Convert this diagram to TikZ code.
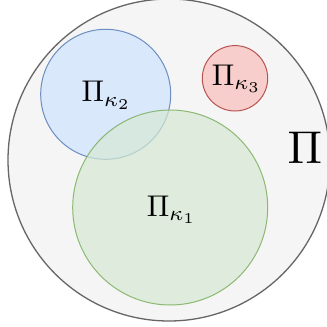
\documentclass[tikz,border=0pt]{standalone}
\usepackage{graphicx}
\definecolor{bigfill}{HTML}{F5F5F5}
\definecolor{bigline}{HTML}{666666}
\definecolor{bfill}{HTML}{DAE8FC}
\definecolor{bline}{HTML}{6C8EBF}
\definecolor{rfill}{HTML}{F8CECC}
\definecolor{rline}{HTML}{B85450}
\definecolor{gfill}{HTML}{D5E8D4}
\definecolor{gline}{HTML}{82B366}
\newcommand{\lblsz}[1]{\scalebox{3}{#1}}
\newcommand{\bigsz}[1]{\scalebox{4.6}{#1}}
\begin{document}
\begin{tikzpicture}[x=1pt,y=-1pt,
  lbl/.style={inner sep=0pt,anchor=base west}]
\useasboundingbox (0,0) rectangle (327,327);
\fill[white] (0,0) rectangle (327,327);
\draw[bigline,fill=bigfill,line width=1.3pt] (169,160) circle[radius=161];
\draw[bline,fill=bfill,line width=1pt] (105.7,94.3) circle[radius=65];
\draw[rline,fill=rfill,line width=1pt] (235,78.3) circle[radius=32.7];
\draw[gline,fill=gfill,fill opacity=0.7,draw opacity=0.9,line width=1pt] (170.2,207.5) circle[radius=97.5];
\node[lbl] (k2) at (81.5,101.5) {\lblsz{$\Pi_{\kappa_2}$}};
\node[lbl] (k3) at (211.7,85) {\lblsz{$\Pi_{\kappa_3}$}};
\node[lbl] (k1) at (146.7,216) {\lblsz{$\Pi_{\kappa_1}$}};
\node[lbl] (P) at (287.3,163.3) {\bigsz{$\Pi$}};
\end{tikzpicture}
\end{document}
